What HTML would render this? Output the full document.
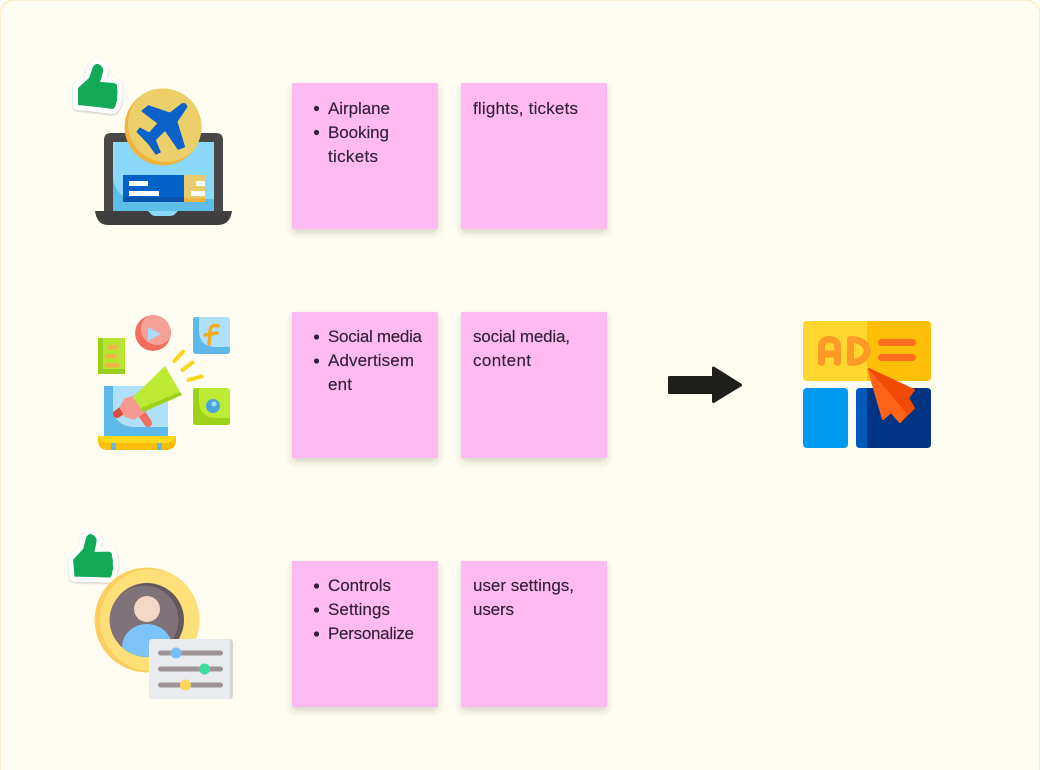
<!DOCTYPE html>
<html><head><meta charset="utf-8"><style>
html,body{margin:0;padding:0;background:#fff;width:1040px;height:770px;overflow:hidden}
svg{display:block}
text{font-family:"Liberation Sans",sans-serif;font-size:17px;fill:#33203a;stroke:#33203a;stroke-width:.15px}
</style></head><body>
<svg width="1040" height="770" viewBox="0 0 1040 770" xmlns="http://www.w3.org/2000/svg">
<defs>
<filter id="s" x="-20%" y="-20%" width="140%" height="140%"><feDropShadow dx="0" dy="4" stdDeviation="3.5" flood-color="#3a3a20" flood-opacity=".2"/></filter>
<filter id="t" x="-20%" y="-20%" width="140%" height="140%"><feDropShadow dx="0" dy="1" stdDeviation="1" flood-color="#000" flood-opacity=".25"/></filter>
<clipPath id="cp"><circle cx="147" cy="620" r="37"/></clipPath>
<clipPath id="cg"><circle cx="163" cy="127" r="38.500"/></clipPath>
<clipPath id="cv"><circle cx="153" cy="333" r="18"/></clipPath>
<clipPath id="cy"><circle cx="147" cy="620" r="52.500"/></clipPath>
<path id="th" d="M78 88 L89 78 L93 67 Q96 62 100 65 Q104 68 103 72 L100 82 L114 83 Q118 84 117 88 Q118 92 117 96 Q118 100 116 103 Q116 107 113 109 L97 107 L78 105 Z"/>
</defs>
<rect x="0" y="0" width="1040" height="790" rx="14" fill="#fffdf1" stroke="#fbe7a6" stroke-width="1"/>
<!-- stickies -->
<g fill="#ffbbf1" filter="url(#s)">
<rect x="292" y="83" width="146" height="146"/><rect x="461" y="83" width="146" height="146"/>
<rect x="292" y="312" width="146" height="146"/><rect x="461" y="312" width="146" height="146"/>
<rect x="292" y="561" width="146" height="146"/><rect x="461" y="561" width="146" height="146"/>
</g>
<g fill="#33203a">
<circle cx="316.500" cy="108.500" r="2.600"/><circle cx="316.500" cy="132.500" r="2.600"/>
<circle cx="316.500" cy="337" r="2.600"/><circle cx="316.500" cy="361" r="2.600"/>
<circle cx="316.500" cy="586" r="2.600"/><circle cx="316.500" cy="610" r="2.600"/><circle cx="316.500" cy="634" r="2.600"/>
</g>
<text x="328" y="114" textLength="62" lengthAdjust="spacing">Airplane</text>
<text x="328" y="138" textLength="61" lengthAdjust="spacing">Booking</text>
<text x="328" y="162" textLength="50" lengthAdjust="spacing">tickets</text>
<text x="473" y="114" textLength="105" lengthAdjust="spacing">flights, tickets</text>
<text x="328" y="342" textLength="94" lengthAdjust="spacing">Social media</text>
<text x="328" y="366" textLength="86" lengthAdjust="spacing">Advertisem</text>
<text x="328" y="390" textLength="24" lengthAdjust="spacing">ent</text>
<text x="473" y="342" textLength="97" lengthAdjust="spacing">social media,</text>
<text x="473" y="366" textLength="58" lengthAdjust="spacing">content</text>
<text x="328" y="591" textLength="63" lengthAdjust="spacing">Controls</text>
<text x="328" y="615" textLength="62" lengthAdjust="spacing">Settings</text>
<text x="328" y="639" textLength="86" lengthAdjust="spacing">Personalize</text>
<text x="473" y="591" textLength="101" lengthAdjust="spacing">user settings,</text>
<text x="473" y="615" textLength="41" lengthAdjust="spacing">users</text>

<!-- thumb 1 -->
<g filter="url(#t)"><use href="#th" fill="#fff" stroke="#fff" stroke-width="10" stroke-linejoin="round"/></g>
<use href="#th" fill="#12a957"/>
<!-- laptop -->
<path d="M111 133 H216 Q223 133 223 140 V215 H104 V140 Q104 133 111 133 Z" fill="#484848"/>
<rect x="113" y="142" width="101" height="70" fill="#8ad9fb"/>
<path d="M113 178 Q116 198 134 199 L214 199 V212 H113 Z" fill="#5fbdea"/>
<g clip-path="url(#cg)">
<circle cx="163" cy="127" r="38.500" fill="#f2b33d"/>
<circle cx="166" cy="124" r="38" fill="#eccf68"/>
</g>
<path d="M186.700 106.700 L176.700 121.700 L184.300 146.700 L178.300 149 L165 130 L155 140 L160 152 L156 154 L149 144 L137.300 131.700 L140 128.300 L149.300 133.300 L158.300 123.300 L142.300 111 L148.300 106 L170 113.300 L181.700 104.300 Q185.500 102.500 186.700 106.700 Z" fill="#0c62c9" stroke="#0c62c9" stroke-width="1.500" stroke-linejoin="round"/>
<rect x="123" y="175" width="61" height="27" fill="#0061c9"/>
<rect x="123" y="197" width="61" height="5" fill="#0554ae"/>
<rect x="184" y="175" width="21" height="27" fill="#eacb6b"/>
<rect x="184" y="198" width="21" height="4" fill="#f4b33b"/>
<g fill="#fff">
<rect x="129" y="181" width="19" height="5"/><rect x="129" y="191" width="30" height="5"/>
<rect x="196" y="181" width="9" height="5"/><rect x="191" y="191" width="14" height="5"/>
</g>
<path d="M95 211 H232 Q230 225 218 225 H108 Q97 225 95 211 Z" fill="#3f3f3f"/>
<path d="M148 211 H178 L174 215 Q172 216 170 216 H156 Q153 216 152 215 Z" fill="#8ad9fb"/>

<!-- marketing -->
<rect x="98" y="338" width="27" height="36" fill="#b9e52f"/>
<path d="M98 338 H103 V369 H125 V374 H98 Z" fill="#9ad019"/>
<g fill="#f3b44c"><rect x="108" y="345" width="10" height="4.500" rx="2"/><rect x="105" y="354" width="12" height="4.500" rx="2"/><rect x="105" y="363" width="14" height="4.500" rx="2"/></g>
<g clip-path="url(#cv)">
<circle cx="153" cy="333" r="18" fill="#f16e5e"/>
<circle cx="157" cy="329" r="16" fill="#f6a097"/>
</g>
<path d="M148 327 L161 334 L148 341 Z" fill="#a9dcf7"/>
<rect x="193" y="317" width="37" height="37" rx="3" fill="#aee0f9"/>
<path d="M193 320 Q193 317 196 317 H199 V330 Q199 347 216 347 H230 V351 Q230 354 227 354 H196 Q193 354 193 351 Z" fill="#5cb9ea"/>
<path d="M218 326 Q211 324 210 331 L209 344 M205 335 L217 333" fill="none" stroke="#f3ab1b" stroke-width="3.500" stroke-linecap="round"/>
<rect x="193" y="388" width="37" height="37" rx="3" fill="#bdea34"/>
<path d="M193 391 Q193 388 196 388 H199 V400 Q199 418 216 418 H230 V422 Q230 425 227 425 H196 Q193 425 193 422 Z" fill="#9cd31a"/>
<circle cx="213" cy="406" r="7" fill="#4aa5df"/><circle cx="214" cy="404" r="2.500" fill="#a6dcf7"/>
<g stroke="#fbd61e" stroke-width="4" stroke-linecap="round" fill="none">
<path d="M174.500 361 L183 351.500"/><path d="M182.500 370 L192.500 362.500"/><path d="M188.500 380 L201.500 376.500"/>
</g>
<rect x="104" y="386" width="64" height="50" fill="#aee0f9"/>
<path d="M104 386 H113 V408 Q113 424 132 427 H168 V436 H104 Z" fill="#5cb9ea"/>
<path d="M117 414 L124 409" stroke="#d9503e" stroke-width="8" stroke-linecap="round"/>
<path d="M142 414 L148 423" stroke="#ef6f5d" stroke-width="8" stroke-linecap="round"/>
<path d="M120 407 L125 399 L135 396 L146 411 L134 419 L125 416 Z" fill="#f69a8f" stroke="#f69a8f" stroke-width="1.500" stroke-linejoin="round"/>
<path d="M133 397 L165 366 L182 395 L143 412 Z" fill="#bdea34"/>
<path d="M143 412 L141 408 L180 392 L182 395 Z" fill="#9cd31a"/>
<path d="M98 436 H176 V440 Q176 450 166 450 H108 Q98 450 98 440 Z" fill="#fcbd07"/>
<path d="M98 436 H176 V437 Q172 443 166 443 H108 Q102 443 98 437 Z" fill="#fcd91c"/>
<rect x="111" y="443" width="5" height="7" fill="#5cb9ea"/><rect x="157" y="443" width="5" height="7" fill="#5cb9ea"/>

<!-- thumb 3 -->
<g transform="translate(-5 470) rotate(-5 98 88)">
<g filter="url(#t)"><use href="#th" fill="#fff" stroke="#fff" stroke-width="10" stroke-linejoin="round"/></g>
<use href="#th" fill="#12a957"/>
</g>
<!-- profile -->
<g clip-path="url(#cy)">
<circle cx="147" cy="620" r="52.500" fill="#fbce5e"/>
<circle cx="151" cy="620" r="51" fill="#ffdf78"/>
</g>
<circle cx="147" cy="620" r="37" fill="#64585f"/>
<circle cx="144" cy="620" r="34.500" fill="#807279"/>
<g clip-path="url(#cp)"><ellipse cx="147" cy="647" rx="25" ry="23" fill="#7cc2fb"/></g>
<circle cx="147" cy="609" r="13" fill="#f5d7c6"/>
<path d="M153 639 H229 Q233 639 233 643 V695 Q233 699 229 699 H153 Q149 699 149 695 V643 Q149 639 153 639 Z" fill="#d4d4d6"/>
<path d="M153 639 H227 Q230 639 230 643 V695 Q230 699 227 699 H153 Q149 699 149 695 V643 Q149 639 153 639 Z" fill="#eaebee"/>
<g fill="#9e9497">
<rect x="158" y="650.500" width="65" height="5" rx="2.500"/><rect x="158" y="666.500" width="65" height="5" rx="2.500"/><rect x="158" y="682.500" width="65" height="5" rx="2.500"/>
</g>
<circle cx="176" cy="653" r="5.500" fill="#7cbcf7"/>
<circle cx="204.500" cy="669" r="5.500" fill="#3fdca0"/>
<circle cx="185.500" cy="685" r="5.500" fill="#fbd65c"/>

<!-- arrow -->
<path d="M669.500 377.500 H713.500 V368 L740.500 385 L713.500 401.500 V392.500 H669.500 Z" fill="#1e1e1c" stroke="#1e1e1c" stroke-width="3" stroke-linejoin="round"/>
<!-- AD icon -->
<path d="M867 321 H807 Q803 321 803 325 V377 Q803 381 807 381 H867 Z" fill="#ffd72e"/>
<path d="M867 321 H927 Q931 321 931 325 V377 Q931 381 927 381 H867 Z" fill="#ffbe07"/>
<rect x="803" y="388" width="45" height="60" rx="4" fill="#0099f0"/>
<path d="M867 388 H860 Q856 388 856 392 V444 Q856 448 860 448 H867 Z" fill="#0059bd"/>
<path d="M867 388 H927 Q931 388 931 392 V444 Q931 448 927 448 H867 Z" fill="#013583"/>
<g fill="none" stroke="#ff9a27" stroke-width="7" stroke-linecap="round" stroke-linejoin="round">
<path d="M821.500 362.500 V347 Q821.500 339.500 829.500 339.500 Q837.500 339.500 837.500 347 V362.500 M821.500 354 H837.500"/>
<path d="M850.500 339.500 V362.500 Q865 362.500 867.500 351 Q865 339.500 850.500 339.500 Z"/>
</g>
<rect x="878" y="339" width="38" height="7" rx="3.500" fill="#ff6f1f"/>
<rect x="878" y="354" width="38" height="7" rx="3.500" fill="#ff6f1f"/>
<path d="M869 369 L914 390 L908 398 L914 408 L900 422 L891 412 L883 419 Z" fill="#f24a05" stroke="#f24a05" stroke-width="2" stroke-linejoin="round"/>
<path d="M869 371 L906 414 L900 422 L891 412 L883 419 Z" fill="#ff6518" stroke="#ff6518" stroke-width="2" stroke-linejoin="round"/>
</svg>
</body></html>
